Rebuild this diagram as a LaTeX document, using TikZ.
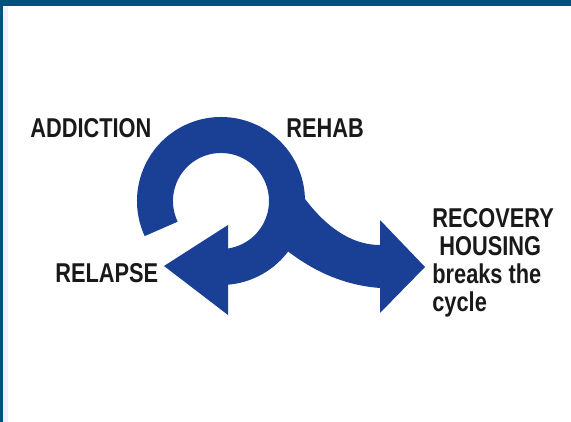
\documentclass[tikz,border=0pt]{standalone}
\usepackage{fontspec}
\newfontfamily\lblfont[FakeStretch=0.8]{Liberation Sans}
\usetikzlibrary{positioning}
\definecolor{loopblue}{RGB}{26,64,150}
\definecolor{frameteal}{RGB}{0,82,122}

\begin{document}
\begin{tikzpicture}[
    x=0.02cm, y=0.02cm,
    band/.style={draw=loopblue, line width=0.72cm},
    head/.style={fill=loopblue},
    lbl/.style={anchor=base west, inner sep=0pt, text=black!90, font=\lblfont\bfseries\fontsize{15.5}{15.9}\selectfont}
]
\useasboundingbox (0,0) rectangle (571,422);
\fill[frameteal] (0,416) rectangle (571,422);
\fill[gray!10] (3.3,0) rectangle (8,416);
\fill[frameteal] (0,0) rectangle (3.3,416);

\coordinate (ring_c) at (221,221);
\draw[band] (ring_c) ++(205:66) arc[start angle=205, end angle=-86, radius=66];
\fill[head] (228,197) -- (164,156) -- (228,107) -- cycle;
\fill[head] (300,230) .. controls (318,204) and (345,177) .. (380,177)
      -- (380,202) -- (425,155) -- (380,109) -- (380,134)
      .. controls (340,137) and (305,154) .. (272,184) -- cycle;

\node[lbl] (addiction) at (30,284) {ADDICTION};
\node[lbl] (rehab) at (286,284) {REHAB};
\node[lbl] (relapse) at (55,139) {RELAPSE};
\node[lbl, anchor=north west, align=left] (housing) at (432,214)
      {RECOVERY\\\hspace*{4pt}HOUSING\\breaks the\\cycle};
\end{tikzpicture}
\end{document}
